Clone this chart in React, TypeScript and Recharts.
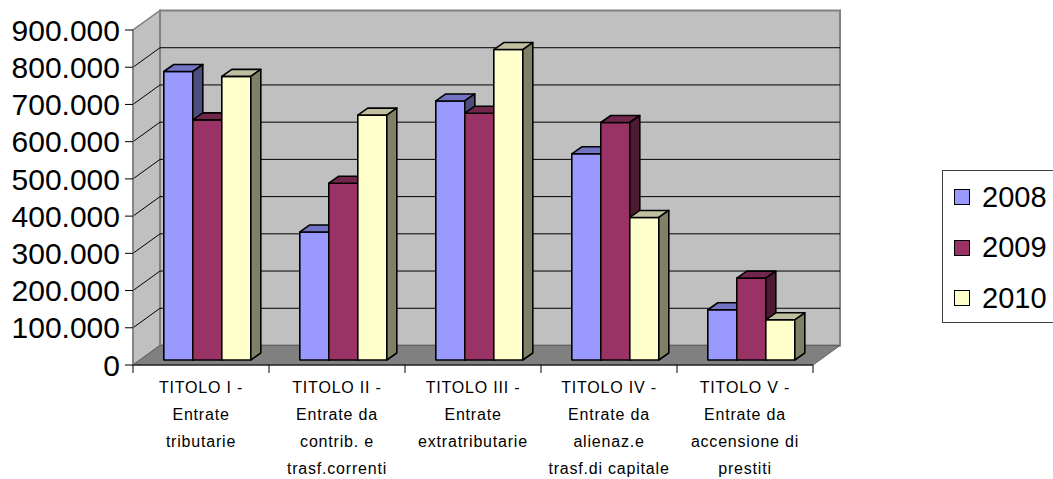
import { BarChart, Bar, XAxis, YAxis, CartesianGrid, Legend } from 'recharts';

// Categorie (titoli di entrata), una riga per ogni "\n"
const categorie = [
  'TITOLO I -\nEntrate\ntributarie',
  'TITOLO II -\nEntrate da\ncontrib. e\ntrasf.correnti',
  'TITOLO III -\nEntrate\nextratributarie',
  'TITOLO IV -\nEntrate da\nalienaz.e\ntrasf.di capitale',
  'TITOLO V -\nEntrate da\naccensione di\nprestiti',
];

// Valori, per anno
const valori2008 = [775000, 344000, 696000, 554000, 135000];
const valori2009 = [645000, 475000, 663000, 638000, 220000];
const valori2010 = [762000, 658000, 834000, 383000, 108000];

// Tacche dell'asse verticale
const tickValori = [0, 100000, 200000, 300000, 400000, 500000, 600000, 700000, 800000, 900000];

const data = categorie.map((name, i) => ({
  name,
  '2008': valori2008[i],
  '2009': valori2009[i],
  '2010': valori2010[i],
}));

// Colori stile Excel: fronte, faccia superiore e fianco
const serie = [
  { key: '2008', front: '#9999FF', top: '#7373C4', side: '#4D4D80' },
  { key: '2009', front: '#993366', top: '#73264D', side: '#4D1A33' },
  { key: '2010', front: '#FFFFCC', top: '#C0C0A0', side: '#808066' },
];

const FONT = '"Liberation Sans", Arial, sans-serif';

// profondità delle pareti
const PROF_X = 27;
const PROF_Y = -19.5;
// piano delle barre rispetto al piano frontale
const BAR_X = 7;
const BAR_Y = -5;
// profondità delle barre
const BAR_DX = 10;
const BAR_DY = -7;

const formatta = (v: number) => String(v).replace(/\B(?=(\d{3})+(?!\d))/g, '.');

// Pareti laterale, di fondo e pavimento (disegnate con la prima linea della griglia)
function Pareti({ x, y, width, height }: any) {
  const b = y + height;
  return (
    <g>
      <polygon
        points={`${x},${b} ${x},${y} ${x + PROF_X},${y + PROF_Y} ${x + PROF_X},${b + PROF_Y}`}
        fill="#C0C0C0"
        stroke="#808080"
        strokeWidth={1.5}
      />
      <rect x={x + PROF_X} y={y + PROF_Y} width={width} height={height} fill="#C0C0C0" stroke="#808080" strokeWidth={2} />
      <polygon
        points={`${x},${b} ${x + width},${b} ${x + width + PROF_X},${b + PROF_Y} ${x + PROF_X},${b + PROF_Y}`}
        fill="#808080"
        stroke="#606060"
        strokeWidth={1}
      />
    </g>
  );
}

function LineaGriglia(props: any) {
  const { x, y, width, height, x1, y1, x2, y2, index } = props;
  const bordo = Math.abs(y1 - y) < 0.5 || Math.abs(y1 - (y + height)) < 0.5;
  return (
    <g>
      {index === 0 && <Pareti x={x} y={y} width={width} height={height} />}
      {!bordo && (
        <>
          <line x1={x1} y1={y1} x2={x1 + PROF_X} y2={y1 + PROF_Y} stroke="#000" strokeWidth={1} />
          <line x1={x1 + PROF_X} y1={y1 + PROF_Y} x2={x2 + PROF_X} y2={y2 + PROF_Y} stroke="#000" strokeWidth={1} />
        </>
      )}
    </g>
  );
}

// Barra 3D: fronte, faccia superiore e fianco
function Barra3D(props: any) {
  const { x, y, width, height, colori } = props;
  if (width == null || height == null) return null;
  const fx = x + BAR_X;
  const fy = y + BAR_Y;
  const w = width;
  const h = height;
  return (
    <g stroke="#000" strokeWidth={1.6} strokeLinejoin="round">
      <rect x={fx} y={fy} width={w} height={h} fill={colori.front} />
      <polygon
        points={`${fx},${fy} ${fx + w},${fy} ${fx + w + BAR_DX},${fy + BAR_DY} ${fx + BAR_DX},${fy + BAR_DY}`}
        fill={colori.top}
      />
      <polygon
        points={`${fx + w},${fy} ${fx + w + BAR_DX},${fy + BAR_DY} ${fx + w + BAR_DX},${fy + h + BAR_DY} ${fx + w},${fy + h}`}
        fill={colori.side}
      />
    </g>
  );
}

// Etichette delle categorie su più righe, tacche ai bordi delle categorie
function TickCategoria(props: any) {
  const { x, y, payload, index } = props;
  const meta = payload && payload.offset ? payload.offset : 68;
  const righe = String(payload.value).split('\n');
  return (
    <g>
      <line x1={x - meta} y1={y - 8} x2={x - meta} y2={y} stroke="#000" />
      {index === categorie.length - 1 && <line x1={x + meta} y1={y - 8} x2={x + meta} y2={y} stroke="#000" />}
      <text x={x} y={y} textAnchor="middle" fontSize={16} letterSpacing={0.8} fontFamily={FONT} fill="#000">
        {righe.map((r, i) => (
          <tspan key={i} x={x} dy={i === 0 ? 20 : 27}>
            {r}
          </tspan>
        ))}
      </text>
    </g>
  );
}

function Legenda({ payload }: any) {
  return (
    <div
      style={{
        borderTop: '1px solid #404040',
        borderLeft: '1px solid #404040',
        borderBottom: '1px solid #404040',
        height: '100%',
        boxSizing: 'border-box',
        paddingTop: 1,
        paddingLeft: 11,
        fontFamily: FONT,
      }}
    >
      {(payload || []).map((entry: any) => (
        <div key={entry.value} style={{ display: 'flex', alignItems: 'center', height: 50.5 }}>
          <span
            style={{
              display: 'inline-block',
              width: 14,
              height: 14,
              border: '1.5px solid #000',
              background: entry.color,
              marginRight: 12,
            }}
          />
          <span style={{ fontSize: 29, color: '#000' }}>{entry.value}</span>
        </div>
      ))}
    </div>
  );
}

export default function App() {
  return (
    <div style={{ position: 'absolute', left: 0, top: 0 }}>
      <BarChart
        width={1053}
        height={479}
        data={data}
        margin={{ top: 30, right: 240, bottom: 0, left: 0 }}
        barCategoryGap="17.5%"
        barGap={0}
      >
        <CartesianGrid vertical={false} horizontal={(p: any) => <LineaGriglia key={p.key} {...p} />} />
        <XAxis
          dataKey="name"
          height={114}
          interval={0}
          tickLine={false}
          tickSize={8}
          tickMargin={0}
          axisLine={{ stroke: '#000', strokeWidth: 1.2 }}
          tick={<TickCategoria />}
        />
        <YAxis
          width={133}
          domain={[0, 900000]}
          ticks={tickValori}
          interval={0}
          tickFormatter={formatta}
          tickSize={8}
          tickMargin={5}
          tick={{ fontSize: 30, fill: '#000', fontFamily: FONT }}
          axisLine={{ stroke: '#808080', strokeWidth: 1.5 }}
          tickLine={{ stroke: '#000' }}
        />
        <Legend
          layout="horizontal"
          verticalAlign="middle"
          align="center"
          wrapperStyle={{ left: 942, top: 170, width: 130, height: 153 }}
          content={(p: any) => <Legenda {...p} />}
        />
        {serie.map((s) => (
          <Bar
            key={s.key}
            dataKey={s.key}
            name={s.key}
            fill={s.front}
            isAnimationActive={false}
            shape={(p: any) => <Barra3D {...p} colori={s} />}
          />
        ))}
      </BarChart>
    </div>
  );
}
